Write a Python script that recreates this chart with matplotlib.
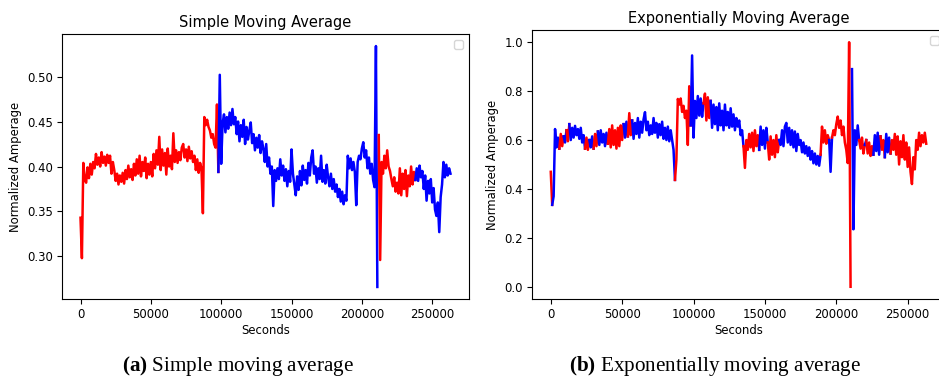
import matplotlib
matplotlib.use("Agg")
import matplotlib.pyplot as plt
import numpy as np

plt.rcParams["mathtext.fontset"] = "custom"
plt.rcParams["mathtext.rm"] = "Liberation Serif"
plt.rcParams["mathtext.bf"] = "Liberation Serif:bold"

# sampling step of both series (seconds)
step = 1000

# simple moving average, one value every 1000 s from 0 to 263000
sma_values = [
    0.343, 0.298, 0.404, 0.386, 0.382, 0.399, 0.387, 0.403, 0.391, 0.405,
    0.398, 0.414, 0.402, 0.410, 0.400, 0.416, 0.404, 0.411, 0.401, 0.413,
    0.404, 0.412, 0.392, 0.405, 0.396, 0.384, 0.392, 0.380, 0.390, 0.383,
    0.393, 0.381, 0.396, 0.386, 0.401, 0.388, 0.397, 0.385, 0.403, 0.390,
    0.408, 0.392, 0.412, 0.389, 0.405, 0.395, 0.410, 0.387, 0.403, 0.391,
    0.405, 0.389, 0.414, 0.398, 0.418, 0.402, 0.433, 0.396, 0.419, 0.401,
    0.415, 0.391, 0.420, 0.400, 0.412, 0.397, 0.437, 0.405, 0.418, 0.404,
    0.416, 0.407, 0.421, 0.425, 0.410, 0.419, 0.406, 0.422, 0.409, 0.417,
    0.405, 0.412, 0.396, 0.408, 0.393, 0.404, 0.398, 0.348, 0.455, 0.446,
    0.452, 0.444, 0.440, 0.432, 0.436, 0.425, 0.421, 0.469, 0.394, 0.502,
    0.403, 0.448, 0.458, 0.438, 0.455, 0.442, 0.460, 0.446, 0.464, 0.447,
    0.455, 0.436, 0.450, 0.428, 0.446, 0.433, 0.452, 0.425, 0.444, 0.430,
    0.440, 0.449, 0.426, 0.436, 0.418, 0.432, 0.421, 0.435, 0.415, 0.428,
    0.420, 0.405, 0.425, 0.400, 0.410, 0.392, 0.400, 0.356, 0.396, 0.384,
    0.398, 0.386, 0.408, 0.390, 0.401, 0.384, 0.397, 0.378, 0.395, 0.383,
    0.419, 0.392, 0.380, 0.368, 0.389, 0.374, 0.395, 0.379, 0.401, 0.385,
    0.396, 0.381, 0.404, 0.390, 0.410, 0.418, 0.392, 0.400, 0.382, 0.398,
    0.386, 0.412, 0.383, 0.396, 0.381, 0.402, 0.388, 0.378, 0.392, 0.375,
    0.386, 0.372, 0.380, 0.366, 0.375, 0.361, 0.372, 0.358, 0.368, 0.362,
    0.412, 0.398, 0.409, 0.396, 0.405, 0.394, 0.357, 0.405, 0.412, 0.408,
    0.420, 0.427, 0.410, 0.418, 0.398, 0.410, 0.392, 0.403, 0.385, 0.377,
    0.534, 0.266, 0.435, 0.296, 0.405, 0.392, 0.412, 0.398, 0.418, 0.400,
    0.395, 0.386, 0.378, 0.388, 0.372, 0.382, 0.370, 0.398, 0.368, 0.392,
    0.375, 0.396, 0.367, 0.390, 0.378, 0.400, 0.380, 0.394, 0.385, 0.398,
    0.384, 0.401, 0.388, 0.395, 0.375, 0.390, 0.362, 0.384, 0.370, 0.386,
    0.360, 0.376, 0.352, 0.345, 0.360, 0.327, 0.366, 0.380, 0.405, 0.388,
    0.402, 0.390, 0.398, 0.392,
]
# times where the colour label switches
sma_breaks = [98500, 211500, 238500]
sma_colors = ["red", "blue", "red", "blue"]

# exponentially moving average, same time grid
ema_values = [
    0.470, 0.335, 0.370, 0.645, 0.570, 0.610, 0.565, 0.625, 0.575, 0.615,
    0.590, 0.640, 0.595, 0.665, 0.600, 0.650, 0.610, 0.658, 0.620, 0.645,
    0.605, 0.650, 0.590, 0.620, 0.565, 0.610, 0.560, 0.600, 0.570, 0.615,
    0.565, 0.625, 0.575, 0.635, 0.580, 0.640, 0.590, 0.625, 0.575, 0.630,
    0.585, 0.645, 0.570, 0.660, 0.580, 0.640, 0.565, 0.650, 0.575, 0.660,
    0.600, 0.665, 0.610, 0.675, 0.615, 0.710, 0.620, 0.680, 0.605, 0.670,
    0.625, 0.690, 0.610, 0.675, 0.630, 0.685, 0.714, 0.640, 0.675, 0.620,
    0.660, 0.625, 0.690, 0.630, 0.670, 0.610, 0.665, 0.620, 0.675, 0.605,
    0.650, 0.600, 0.655, 0.595, 0.640, 0.600, 0.560, 0.437, 0.520, 0.768,
    0.745, 0.770, 0.715, 0.740, 0.690, 0.720, 0.580, 0.820, 0.660, 0.946,
    0.610, 0.760, 0.690, 0.780, 0.700, 0.770, 0.695, 0.750, 0.790, 0.680,
    0.775, 0.690, 0.760, 0.650, 0.745, 0.665, 0.735, 0.640, 0.750, 0.660,
    0.720, 0.640, 0.745, 0.660, 0.715, 0.650, 0.730, 0.655, 0.705, 0.640,
    0.690, 0.655, 0.680, 0.620, 0.640, 0.575, 0.486, 0.600, 0.560, 0.625,
    0.570, 0.630, 0.555, 0.640, 0.575, 0.620, 0.560, 0.655, 0.580, 0.640,
    0.565, 0.650, 0.590, 0.520, 0.615, 0.540, 0.600, 0.530, 0.620, 0.550,
    0.600, 0.580, 0.640, 0.575, 0.655, 0.670, 0.590, 0.650, 0.580, 0.640,
    0.570, 0.635, 0.555, 0.625, 0.580, 0.600, 0.550, 0.590, 0.545, 0.575,
    0.535, 0.570, 0.520, 0.555, 0.505, 0.545, 0.500, 0.535, 0.495, 0.540,
    0.655, 0.590, 0.640, 0.585, 0.620, 0.600, 0.470, 0.610, 0.640, 0.620,
    0.665, 0.696, 0.650, 0.680, 0.620, 0.655, 0.590, 0.560, 0.506, 1.000,
    0.000, 0.890, 0.235, 0.640, 0.580, 0.660, 0.600, 0.565, 0.610, 0.545,
    0.580, 0.600, 0.545, 0.590, 0.535, 0.575, 0.540, 0.620, 0.555, 0.630,
    0.540, 0.615, 0.560, 0.600, 0.530, 0.625, 0.550, 0.610, 0.545, 0.600,
    0.560, 0.625, 0.540, 0.615, 0.500, 0.595, 0.530, 0.620, 0.520, 0.590,
    0.490, 0.570, 0.470, 0.420, 0.530, 0.480, 0.600, 0.560, 0.630, 0.575,
    0.620, 0.590, 0.630, 0.585,
]
ema_breaks = [1500, 6500, 9500, 11500, 13500, 24500, 27500, 30500, 33500,
              40500, 51500, 54500, 57500, 87500, 98500, 107500, 112500,
              135500, 146500, 152500, 160500, 189500, 195500, 197500,
              210500, 216500, 220500, 221500, 226500, 231500, 234500, 238500]
ema_colors = ["red", "blue"] * 16 + ["red"]

titles = ["Simple Moving Average", "Exponentially Moving Average"]
captions = [r"$\mathbf{(a)}$ Simple moving average",
            r"$\mathbf{(b)}$ Exponentially moving average"]


def draw_series(ax, values, breaks, colors):
    t = np.arange(len(values)) * step
    v = np.array(values)
    span = v.max() - v.min()
    idx = list(np.searchsorted(t, breaks))
    starts = [0] + idx
    ends = idx + [len(t)]
    for s, e, c in zip(starts, ends, colors):
        # join to the previous segment unless it ends in a big spike
        lo = s - 1 if s > 0 and abs(v[s] - v[s - 1]) < 0.5 * span else s
        ax.plot(t[lo:e], v[lo:e], color=c, lw=1.8)


fig = plt.figure(figsize=(9.39, 3.78), dpi=100)
ax1 = fig.add_axes([62 / 939, 1 - 299 / 378, 407 / 939, 265 / 378])
ax2 = fig.add_axes([532 / 939, 1 - 299 / 378, 413 / 939, 269 / 378])

draw_series(ax1, sma_values, sma_breaks, sma_colors)
draw_series(ax2, ema_values, ema_breaks, ema_colors)

for ax, title in zip([ax1, ax2], titles):
    ax.set_title(title, fontsize=10.5, pad=5)
    ax.set_xlabel("Seconds", fontsize=8.4, labelpad=2)
    ax.set_ylabel("Normalized Amperage", fontsize=8.4, labelpad=4)
    ax.tick_params(labelsize=8.4, length=3.5, pad=3)
    ax.legend(handles=[], loc="upper right", fontsize=8.4)

ax2.set_yticks([0.0, 0.2, 0.4, 0.6, 0.8, 1.0])

fig.text(238 / 939, 1 - 366 / 378, captions[0], ha="center", va="center",
         fontsize=15.2, family="Liberation Serif")
fig.text(715 / 939, 1 - 366 / 378, captions[1], ha="center", va="center",
         fontsize=15.2, family="Liberation Serif")

fig.savefig("out.png", dpi=100)
